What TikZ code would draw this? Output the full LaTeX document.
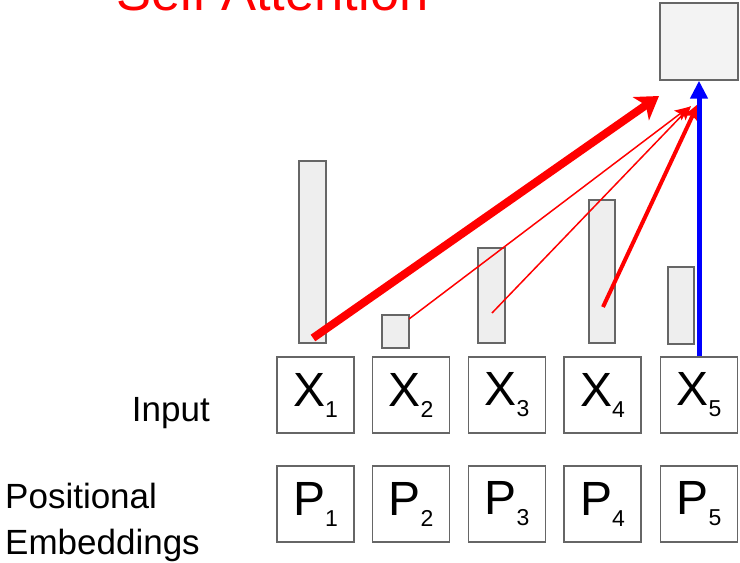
\documentclass[tikz,border=0pt]{standalone}
\usepackage{fontspec}
\setmainfont{Liberation Sans}
\usepackage{xcolor}
\usepackage{tikz}
\usetikzlibrary{arrows.meta,positioning}

\definecolor{edgegray}{HTML}{666666}
\definecolor{barfill}{HTML}{EEEEEE}
\definecolor{outfill}{HTML}{F3F3F3}
\newcommand{\lowidx}[1]{\raisebox{-11pt}{\fontsize{23}{23}\selectfont #1}}

\begin{document}
\begin{tikzpicture}[x=1pt, y=-1pt,
      tok/.style={draw=edgegray, line width=1.4pt, fill=white, minimum width=77pt,
        minimum height=76pt, inner sep=0pt, font=\fontsize{48}{48}\selectfont},
      bar/.style={draw=edgegray, line width=1.4pt, fill=barfill, inner sep=0pt},
      lbl/.style={font=\fontsize{35}{46}\selectfont, inner sep=0pt},
      >=Stealth]
    \useasboundingbox (0,0) rectangle (740,563);
    % title, cut at the top edge
    \node[anchor=base west, text=red, inner sep=0pt,
      font=\fontsize{52.5}{60}\selectfont] (title) at (116,10) {Self Attention};
    % output
    \node[bar, fill=outfill, minimum width=78pt, minimum height=77pt] (out) at (699,41.5) {};
    % attention weights
    \node[bar, minimum width=27pt, minimum height=182pt] (b1) at (312.5,252) {};
    \node[bar, minimum width=27pt, minimum height=33pt]  (b2) at (395.5,331.5) {};
    \node[bar, minimum width=27pt, minimum height=95pt]  (b3) at (491.5,295.5) {};
    \node[bar, minimum width=26pt, minimum height=143pt] (b4) at (602,271.5) {};
    \node[bar, minimum width=26pt, minimum height=77pt]  (b5) at (681,305.5) {};
    % tokens
    \node[tok] (x1) at (315.5,395) {X\lowidx{1}};
    \node[tok] (x2) at (411,395)   {X\lowidx{2}};
    \node[tok] (x3) at (507,395)   {X\lowidx{3}};
    \node[tok] (x4) at (602.5,395) {X\lowidx{4}};
    \node[tok] (x5) at (699,395)   {X\lowidx{5}};
    \node[tok] (p1) at (315.5,504) {P\lowidx{1}};
    \node[tok] (p2) at (411,504)   {P\lowidx{2}};
    \node[tok] (p3) at (507,504)   {P\lowidx{3}};
    \node[tok] (p4) at (602.5,504) {P\lowidx{4}};
    \node[tok] (p5) at (699,504)   {P\lowidx{5}};
    \node[lbl, anchor=base east] (inp) at (210,421) {Input};
    \node[lbl, anchor=base west, align=left] (pos) at (5,554) {Positional\\Embeddings};
    % arrow ends
    \coordinate (s1) at (313,338);
    \coordinate (s2) at (409,319);
    \coordinate (s3) at (492,313);
    \coordinate (s4) at (603,307);
    \coordinate (t1) at (659,96);
    \coordinate (t2) at (689,107);
    \coordinate (t3) at (691,106);
    \coordinate (t4) at (698,104);
    \draw[red, line width=8pt, -{Stealth[length=22pt,width=28pt,inset=6pt]}] (s1) -- (t1);
    \draw[red, line width=1.5pt, -{Stealth[length=14pt,width=12pt,inset=3pt]}] (s2) -- (t2);
    \draw[red, line width=1.5pt, -{Stealth[length=14pt,width=12pt,inset=3pt]}] (s3) -- (t3);
    \draw[red, line width=4pt, -{Stealth[length=16pt,width=15pt,inset=3pt]}] (s4) -- (t4);
    \draw[blue, line width=5pt, -{Triangle[length=18pt,width=17pt]}] (x5.north) -- (out.south);
  \end{tikzpicture}
\end{document}
